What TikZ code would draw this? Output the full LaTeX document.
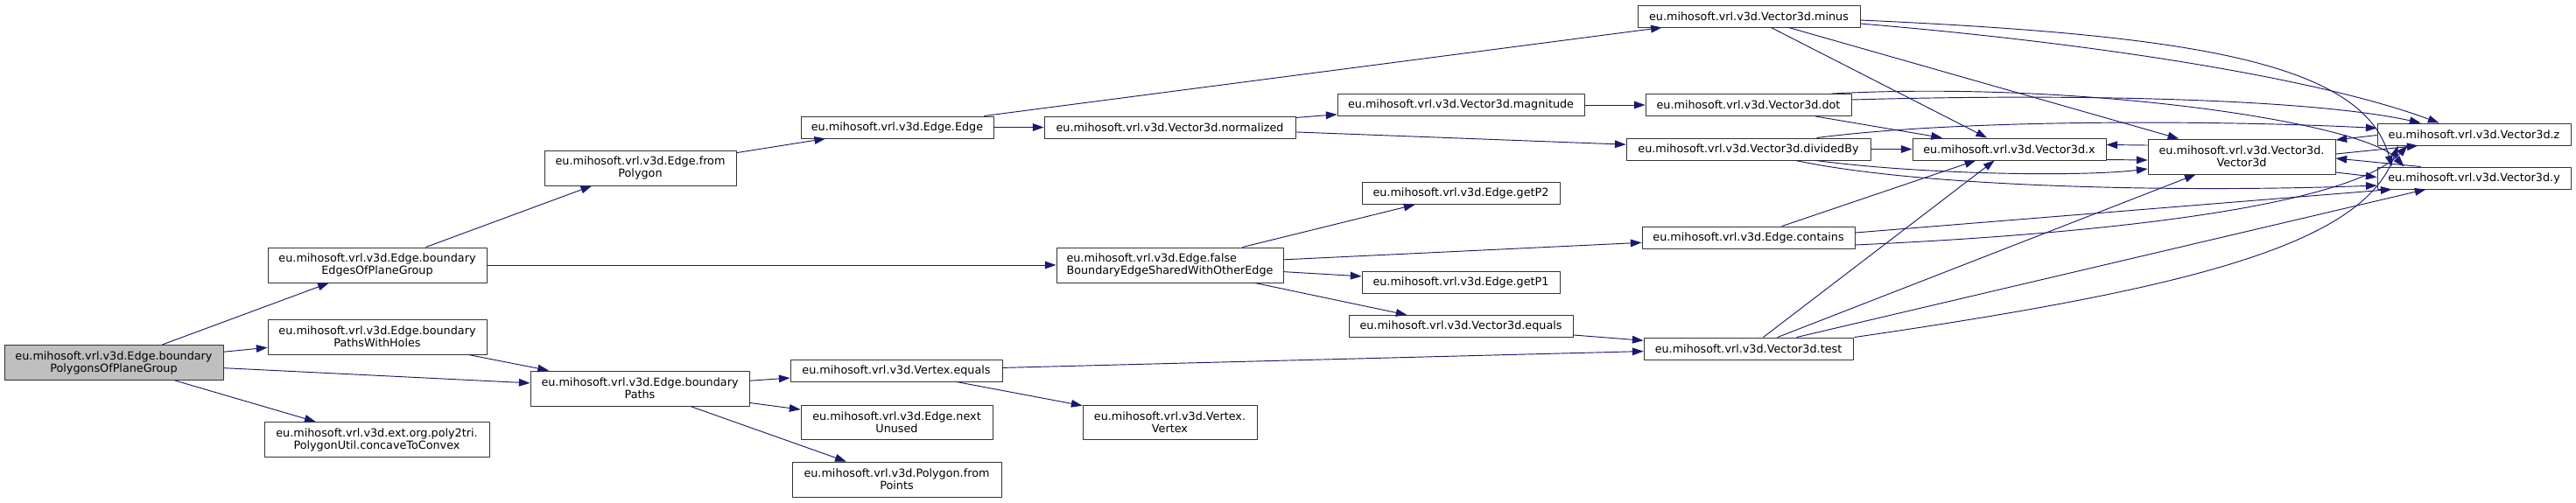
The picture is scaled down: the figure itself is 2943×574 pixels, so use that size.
\documentclass[tikz,border=0pt]{standalone}
\usepackage{fontspec}
\setmainfont{DejaVu Sans}
\usetikzlibrary{arrows.meta,calc}
\definecolor{callblue}{HTML}{191970}
\begin{document}
\begin{tikzpicture}[x=0.03cm, y=-0.03cm, line join=round,
		fn/.style={draw=black!80, fill=white, line width=0.8pt, inner sep=0pt, align=center,
			font=\fontsize{10.9}{12}\selectfont, minimum width=#1*0.03cm, minimum height=25*0.03cm},
		fnn/.style={fn=#1, minimum height=40*0.03cm},
		root/.style={fnn=#1, fill=black!25},
		call/.style={draw=callblue, line width=0.8pt, -{Triangle[length=0.38cm,width=0.26cm]}}]
			\useasboundingbox (0,0) rectangle (2943,574);
			% callers on the left
			\node[root=250] (poly) at (130,414.5) {eu.mihosoft.vrl.v3d.Edge.boundary\\PolygonsOfPlaneGroup};
			\node[fnn=250] (edges) at (431,303) {eu.mihosoft.vrl.v3d.Edge.boundary\\EdgesOfPlaneGroup};
			\node[fnn=250] (holes) at (431,385) {eu.mihosoft.vrl.v3d.Edge.boundary\\PathsWithHoles};
			\node[fnn=257] (convex) at (430.5,502.5) {eu.mihosoft.vrl.v3d.ext.org.poly2tri.\\PolygonUtil.concaveToConvex};
			\node[fnn=219] (frompoly) at (731.5,192) {eu.mihosoft.vrl.v3d.Edge.from\\Polygon};
			\node[fnn=250] (paths) at (731,444) {eu.mihosoft.vrl.v3d.Edge.boundary\\Paths};
			\node[fn=220] (edge) at (1025,145.5) {eu.mihosoft.vrl.v3d.Edge.Edge};
			\node[fn=242] (vtxeq) at (1024,423.5) {eu.mihosoft.vrl.v3d.Vertex.equals};
			\node[fnn=219, minimum height=39*0.03cm] (nextun) at (1024.5,482.5) {eu.mihosoft.vrl.v3d.Edge.next\\Unused};
			\node[fnn=239] (frompts) at (1024.5,548) {eu.mihosoft.vrl.v3d.Polygon.from\\Points};
			\node[fn=287] (norm) at (1336.5,145.5) {eu.mihosoft.vrl.v3d.Vector3d.normalized};
			\node[fnn=259, align=left] (falseb) at (1336.5,303) {eu.mihosoft.vrl.v3d.Edge.false\\BoundaryEdgeSharedWithOtherEdge};
			\node[fnn=199, minimum height=39*0.03cm] (vertex) at (1336.5,482.5) {eu.mihosoft.vrl.v3d.Vertex.\\Vertex};
			\node[fn=282] (magn) at (1669,120) {eu.mihosoft.vrl.v3d.Vector3d.magnitude};
			\node[fn=226] (getp2) at (1669,221) {eu.mihosoft.vrl.v3d.Edge.getP2};
			\node[fn=226] (getp1) at (1669,322.5) {eu.mihosoft.vrl.v3d.Edge.getP1};
			\node[fn=256] (v3eq) at (1669,373) {eu.mihosoft.vrl.v3d.Vector3d.equals};
			% vector helpers
			\node[fn=254] (minus) at (1998,18.5) {eu.mihosoft.vrl.v3d.Vector3d.minus};
			\node[fn=235] (dot) at (1997.5,120) {eu.mihosoft.vrl.v3d.Vector3d.dot};
			\node[fn=279] (divby) at (1997.5,170.5) {eu.mihosoft.vrl.v3d.Vector3d.dividedBy};
			\node[fn=243] (contains) at (1997.5,271.5) {eu.mihosoft.vrl.v3d.Edge.contains};
			\node[fn=239] (test) at (1997.5,398.5) {eu.mihosoft.vrl.v3d.Vector3d.test};
			\node[fn=221] (vx) at (2295.5,170.5) {eu.mihosoft.vrl.v3d.Vector3d.x};
			\node[fnn=214] (vnew) at (2561,179) {eu.mihosoft.vrl.v3d.Vector3d.\\Vector3d};
			\node[fn=221] (vz) at (2826.5,153.5) {eu.mihosoft.vrl.v3d.Vector3d.z};
			\node[fn=221] (vy) at (2826.5,203.5) {eu.mihosoft.vrl.v3d.Vector3d.y};
			% calls
			\draw[call] (poly) -- (edges);
			\draw[call] (poly) -- (holes);
			\draw[call] (poly) -- (paths);
			\draw[call] (poly) -- (convex);
			\draw[call] (edges) -- (frompoly);
			\draw[call] (edges) -- (falseb);
			\draw[call] (holes) -- (paths);
			\draw[call] (frompoly) -- (edge);
			\draw[call] (edge) -- (minus);
			\draw[call] (edge) -- (norm);
			\draw[call] (norm) -- (magn);
			\draw[call] (norm) -- (divby);
			\draw[call] (magn) -- (dot);
			\draw[call] (paths) -- (vtxeq);
			\draw[call] (paths) -- (nextun);
			\draw[call] (paths) -- (frompts);
			\draw[call] (vtxeq) -- (test);
			\draw[call] (vtxeq) -- (vertex);
			\draw[call] (falseb) -- (getp2);
			\draw[call] (falseb) -- (contains);
			\draw[call] (falseb) -- (getp1);
			\draw[call] (falseb) -- (v3eq);
			\draw[call] (v3eq) -- (test);
			\draw[call] (minus) -- (vx);
			\draw[call] (minus) -- (vnew);
			\draw[call] ($(minus.east)+(0,8.5)$) .. controls (2400,50) and (2650,90) .. ($(vz.north west)+(71,0)$);
			\draw[call] ($(minus.east)+(0,4.5)$) .. controls (2500,40) and (2700,70) .. ($(vy.north west)+(17,0)$);
			\draw[call] (dot) -- (vx);
			\draw[call] ($(dot.east)+(0,-6)$) .. controls (2400,106) and (2650,115) .. ($(vz.north west)+(50,0)$);
			\draw[call] ($(dot.north east)+(-23,0)$) .. controls (2380,92) and (2700,140) .. ($(vy.north west)+(31,0)$);
			\draw[call] (divby) -- (vx);
			\draw[call] ($(divby.north east)+(-62,0)$) .. controls (2250,135) and (2550,138) .. ($(vz.west)+(0,-7)$);
			\draw[call] ($(divby.south east)+(-63,0)$) .. controls (2200,200) and (2380,202) .. ($(vnew.west)+(0,14)$);
			\draw[call] ($(divby.south east)+(-86,0)$) .. controls (2200,215) and (2500,220) .. ($(vy.west)+(0,8.5)$);
			\draw[call] (contains) -- (vx);
			\draw[call] ($(contains.east)+(0,-5.5)$) -- ($(vy.south west)+(17,0)$);
			\draw[call] ($(contains.east)+(0,8.5)$) .. controls (2450,265) and (2690,230) .. ($(vz.south west)+(35,0)$);
			\draw[call] (test) -- (vx);
			\draw[call] (test) -- (vnew);
			\draw[call] (test) -- (vy);
			\draw[call] ($(test.north east)+(1,0)$) .. controls (2500,330) and (2700,280) .. ($(vz.south west)+(24,0)$);
			\draw[call] ($(vnew.west)+(0,-13)$) -- ($(vx.east)+(0,-5)$);
			\draw[call] ($(vx.east)+(0,12)$) -- ($(vnew.west)+(0,4)$);
			\draw[call] ($(vnew.east)+(0,-3)$) -- ($(vz.south west)+(47,0)$);
			\draw[call] ($(vnew.east)+(0,18)$) -- ($(vy.west)+(0,-1)$);
			\draw[call] ($(vz.west)+(0,1)$) -- ($(vnew.east)+(0,-19)$);
			\draw[call] ($(vy.north west)+(50,0)$) -- ($(vnew.east)+(0,2)$);
		\end{tikzpicture}
\end{document}
